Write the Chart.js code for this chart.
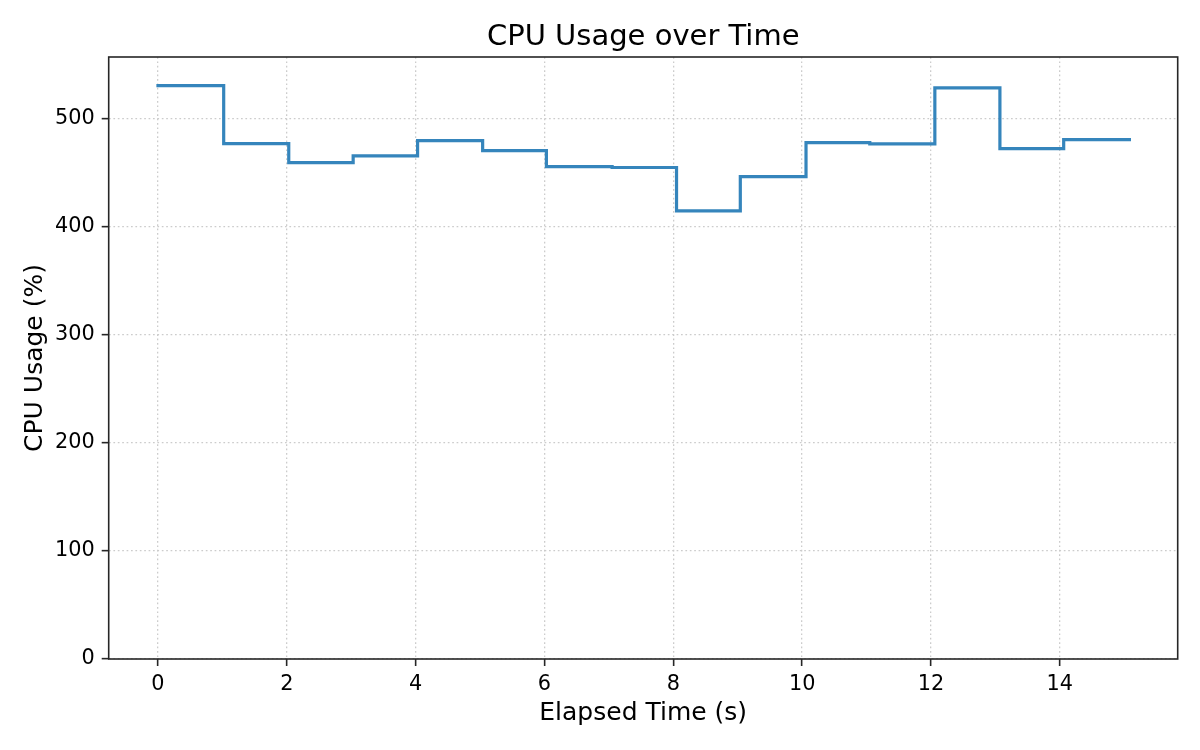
<!DOCTYPE html>
<html><head><meta charset="utf-8">
<script src="https://cdn.jsdelivr.net/npm/chart.js@4/dist/chart.umd.min.js"></script>
<style>html,body{margin:0;padding:0;background:#fff;}#wrap{width:1200px;height:750px;}</style>
</head><body><div id="wrap"><canvas id="c" width="1200" height="750"></canvas></div>
<script>
const elapsedTime = [0, 1.02, 2.03, 3.03, 4.03, 5.04, 6.03, 7.05, 8.05, 9.04, 10.06, 11.05, 12.06, 13.07, 14.06, 15.08];
const cpuUsage = [530.8, 477.1, 459.5, 465.7, 479.9, 470.7, 455.9, 455.0, 414.8, 446.6, 478.0, 476.9, 528.7, 472.5, 480.9, 480.9];
const xTickValues = [0, 2, 4, 6, 8, 10, 12, 14];
const yTickValues = [0, 100, 200, 300, 400, 500];
const chartTitle = 'CPU Usage over Time';
const xLabel = 'Elapsed Time (s)';
const yLabel = 'CPU Usage (%)';

const FONT = "'DejaVu Sans', sans-serif";
const spineColor = '#262626';

const framePlugin = {
  id: 'frame',
  afterDraw(chart) {
    const {ctx, chartArea: a} = chart;
    ctx.save();
    ctx.strokeStyle = spineColor;
    ctx.lineWidth = 1.6;
    ctx.strokeRect(a.left, a.top, a.right - a.left, a.bottom - a.top);
    // title centred over the plot area
    ctx.fillStyle = '#000';
    ctx.font = "29px " + FONT;
    ctx.textAlign = 'center';
    ctx.textBaseline = 'alphabetic';
    ctx.fillText(chartTitle, (a.left + a.right) / 2, a.top - 12.5);
    ctx.restore();
  }
};

const points = elapsedTime.map((t, i) => ({x: t, y: cpuUsage[i]}));

new Chart(document.getElementById('c'), {
  type: 'line',
  data: {
    datasets: [{
      data: points,
      stepped: 'before',
      borderColor: '#3585bc',
      borderWidth: 3.2,
      borderCapStyle: 'square',
      borderJoinStyle: 'miter',
      pointRadius: 0,
      fill: false,
      tension: 0
    }]
  },
  options: {
    responsive: false,
    animation: false,
    devicePixelRatio: 1,
    layout: {padding: {top: 57, right: 22.3, bottom: 0, left: 0}},
    plugins: {
      legend: {display: false},
      tooltip: {enabled: false},
      title: {display: false}
    },
    scales: {
      x: {
        type: 'linear',
        min: -0.765,
        max: 15.83,
        afterFit(s) { s.height = 91; },
        afterBuildTicks(s) { s.ticks = xTickValues.map(v => ({value: v})); },
        ticks: {
          color: '#000',
          font: {family: FONT, size: 20.8},
          padding: 6,
          maxRotation: 0,
          autoSkip: false,
          callback: v => String(v)
        },
        grid: {
          color: '#cccccc',
          lineWidth: 1.3,
          tickLength: 7,
          tickColor: spineColor,
          tickWidth: 1.6
        },
        border: {display: false, dash: [1.7, 2.7]},
        title: {
          display: true,
          text: xLabel,
          color: '#000',
          font: {family: FONT, size: 25, lineHeight: 1.2},
          padding: {top: 0, bottom: 21.5}
        }
      },
      y: {
        type: 'linear',
        min: 0,
        max: 557.3,
        afterFit(s) { s.width = 108.7; },
        afterBuildTicks(s) { s.ticks = yTickValues.map(v => ({value: v})); },
        ticks: {
          color: '#000',
          font: {family: FONT, size: 20.8},
          padding: 7,
          autoSkip: false,
          callback: v => String(v)
        },
        grid: {
          color: '#cccccc',
          lineWidth: 1.3,
          tickLength: 7,
          tickColor: spineColor,
          tickWidth: 1.6
        },
        border: {display: false, dash: [1.7, 2.7]},
        title: {
          display: true,
          text: yLabel,
          color: '#000',
          font: {family: FONT, size: 25, lineHeight: 1.2},
          padding: {top: 20, bottom: 0}
        }
      }
    }
  },
  plugins: [framePlugin]
});
</script>
</body></html>
